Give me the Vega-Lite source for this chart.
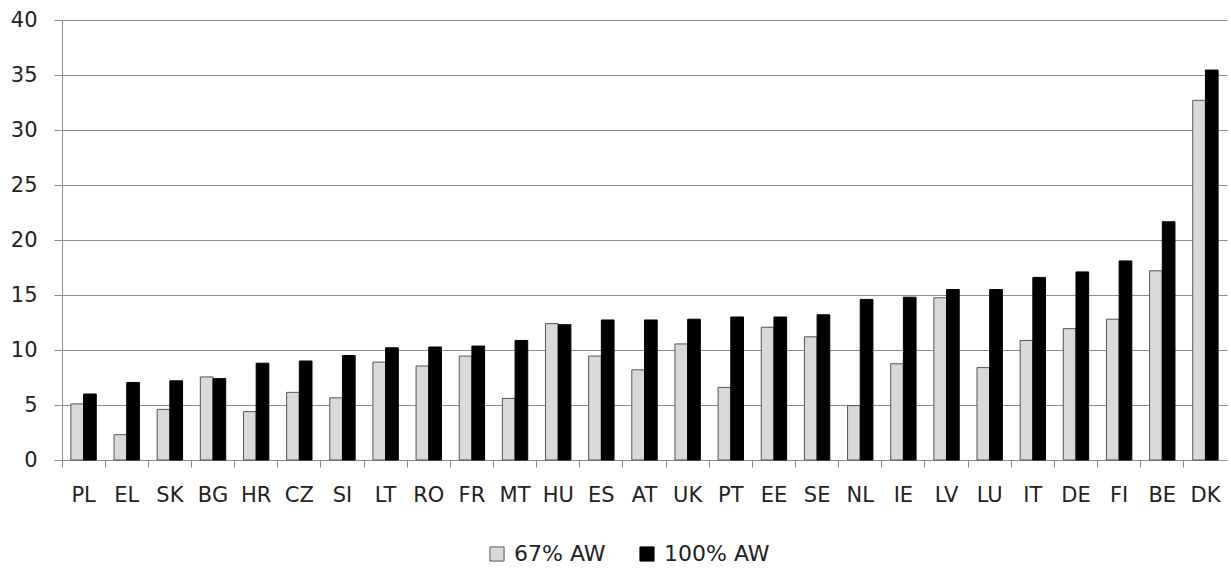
{
  "$schema": "https://vega.github.io/schema/vega-lite/v6.json",
  "width": 1165,
  "height": 440,
  "autosize": {"type": "none"},
  "padding": {"left": 62, "top": 20, "right": 4, "bottom": 109},
  "background": "white",
  "config": {
    "view": {"stroke": null},
    "font": "DejaVu Sans",
    "axis": {"labelFont": "DejaVu Sans", "labelColor": "#222222"}
  },
  "datasets": {
    "rows": [
      {"country": "PL", "series": "67% AW", "value": 5.1}, {"country": "PL", "series": "100% AW", "value": 6.0},
      {"country": "EL", "series": "67% AW", "value": 2.3}, {"country": "EL", "series": "100% AW", "value": 7.05},
      {"country": "SK", "series": "67% AW", "value": 4.6}, {"country": "SK", "series": "100% AW", "value": 7.2},
      {"country": "BG", "series": "67% AW", "value": 7.55}, {"country": "BG", "series": "100% AW", "value": 7.4},
      {"country": "HR", "series": "67% AW", "value": 4.4}, {"country": "HR", "series": "100% AW", "value": 8.8},
      {"country": "CZ", "series": "67% AW", "value": 6.15}, {"country": "CZ", "series": "100% AW", "value": 9.0},
      {"country": "SI", "series": "67% AW", "value": 5.65}, {"country": "SI", "series": "100% AW", "value": 9.5},
      {"country": "LT", "series": "67% AW", "value": 8.9}, {"country": "LT", "series": "100% AW", "value": 10.2},
      {"country": "RO", "series": "67% AW", "value": 8.55}, {"country": "RO", "series": "100% AW", "value": 10.27},
      {"country": "FR", "series": "67% AW", "value": 9.45}, {"country": "FR", "series": "100% AW", "value": 10.36},
      {"country": "MT", "series": "67% AW", "value": 5.6}, {"country": "MT", "series": "100% AW", "value": 10.87},
      {"country": "HU", "series": "67% AW", "value": 12.4}, {"country": "HU", "series": "100% AW", "value": 12.3},
      {"country": "ES", "series": "67% AW", "value": 9.45}, {"country": "ES", "series": "100% AW", "value": 12.73},
      {"country": "AT", "series": "67% AW", "value": 8.2}, {"country": "AT", "series": "100% AW", "value": 12.73},
      {"country": "UK", "series": "67% AW", "value": 10.55}, {"country": "UK", "series": "100% AW", "value": 12.8},
      {"country": "PT", "series": "67% AW", "value": 6.6}, {"country": "PT", "series": "100% AW", "value": 13.0},
      {"country": "EE", "series": "67% AW", "value": 12.07}, {"country": "EE", "series": "100% AW", "value": 13.0},
      {"country": "SE", "series": "67% AW", "value": 11.2}, {"country": "SE", "series": "100% AW", "value": 13.2},
      {"country": "NL", "series": "67% AW", "value": 4.94}, {"country": "NL", "series": "100% AW", "value": 14.6},
      {"country": "IE", "series": "67% AW", "value": 8.75}, {"country": "IE", "series": "100% AW", "value": 14.8},
      {"country": "LV", "series": "67% AW", "value": 14.75}, {"country": "LV", "series": "100% AW", "value": 15.5},
      {"country": "LU", "series": "67% AW", "value": 8.4}, {"country": "LU", "series": "100% AW", "value": 15.5},
      {"country": "IT", "series": "67% AW", "value": 10.87}, {"country": "IT", "series": "100% AW", "value": 16.6},
      {"country": "DE", "series": "67% AW", "value": 11.94}, {"country": "DE", "series": "100% AW", "value": 17.1},
      {"country": "FI", "series": "67% AW", "value": 12.8}, {"country": "FI", "series": "100% AW", "value": 18.1},
      {"country": "BE", "series": "67% AW", "value": 17.2}, {"country": "BE", "series": "100% AW", "value": 21.66},
      {"country": "DK", "series": "67% AW", "value": 32.7}, {"country": "DK", "series": "100% AW", "value": 35.45}
    ]
  },
  "data": {"name": "rows"},
  "mark": {"type": "bar", "strokeWidth": 1},
  "encoding": {
    "x": {
      "field": "country",
      "type": "nominal",
      "sort": null,
      "scale": {"paddingInner": 0, "paddingOuter": 0},
      "axis": {
        "title": null,
        "labelAngle": 0,
        "bandPosition": 0,
        "labelFontSize": 21,
        "labelPadding": 17,
        "tickSize": 7,
        "tickColor": "#8c8c8c",
        "domainColor": "#8c8c8c",
        "grid": false
      }
    },
    "xOffset": {
      "field": "series",
      "type": "nominal",
      "sort": ["67% AW", "100% AW"],
      "scale": {"paddingInner": 0, "paddingOuter": 0.7}
    },
    "y": {
      "field": "value",
      "type": "quantitative",
      "scale": {"domain": [0, 40], "nice": false},
      "axis": {
        "title": null,
        "values": [0, 5, 10, 15, 20, 25, 30, 35, 40],
        "labelFontSize": 21,
        "labelPadding": 17,
        "tickSize": 8,
        "tickColor": "#8c8c8c",
        "domainColor": "#8c8c8c",
        "gridColor": "#8c8c8c",
        "gridWidth": 1.2
      }
    },
    "color": {
      "field": "series",
      "type": "nominal",
      "sort": ["67% AW", "100% AW"],
      "scale": {"domain": ["67% AW", "100% AW"], "range": ["#d9d9d9", "#000000"]},
      "legend": {
        "title": null,
        "orient": "none",
        "direction": "horizontal",
        "legendX": 424,
        "legendY": 523,
        "symbolType": "square",
        "symbolSize": 200,
        "symbolStrokeWidth": 1,
        "labelFontSize": 22,
        "labelColor": "#222222",
        "labelOffset": 6,
        "columnPadding": 30
      }
    },
    "stroke": {
      "field": "series",
      "type": "nominal",
      "sort": ["67% AW", "100% AW"],
      "scale": {"domain": ["67% AW", "100% AW"], "range": ["#555555", "#000000"]},
      "legend": {
        "title": null,
        "orient": "none",
        "direction": "horizontal",
        "legendX": 424,
        "legendY": 523,
        "symbolType": "square",
        "symbolSize": 200,
        "symbolStrokeWidth": 1,
        "labelFontSize": 22,
        "labelColor": "#222222",
        "labelOffset": 6,
        "columnPadding": 30
      }
    }
  }
}
